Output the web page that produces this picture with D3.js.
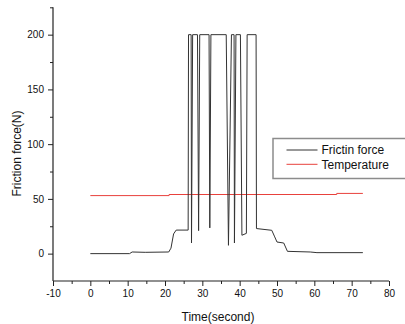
<!DOCTYPE html>
<html>
<head>
<meta charset="utf-8">
<script src="https://cdn.jsdelivr.net/npm/d3@7"></script>
<style>
  html, body { margin: 0; padding: 0; background: #fff; }
  svg { display: block; font-family: 'Liberation Sans', Arial, sans-serif; }
</style>
</head>
<body>
<div id="chart"></div>
<script>
// friction force (N) vs time (s)
const frictionTime = [0, 10.5, 11.2, 14.7, 21.0, 21.6, 22.3, 23.0, 26.2,
  26.3, 27.0, 27.1, 27.4, 28.7, 29.0, 29.3, 31.8, 32.0, 32.3, 36.4, 37.0, 37.8,
  38.5, 38.6, 39.0, 40.2, 40.6, 41.8, 42.0, 44.4, 44.5, 48.6, 49.3, 50.0, 51.8,
  52.8, 58.9, 60.7, 73.0];
const frictionValue = [0, 0, 1.5, 1.2, 1.5, 5, 18, 21.5, 21.5,
  200, 200, 9.7, 200, 200, 21, 200, 200, 23.5, 200, 200, 7.6, 200,
  200, 9.7, 200, 200, 16.8, 18.5, 200, 200, 22.9, 21.3, 16, 10.6, 9.7,
  2.1, 1.5, 0.9, 0.9];

// temperature, drawn on the same axis
const tempTime = [0, 21.1, 21.1, 66.0, 66.0, 73.0];
const tempValue = [53, 53, 54, 54, 55, 55];

const xMajorTicks = [-10, 0, 10, 20, 30, 40, 50, 60, 70, 80];
const xMinorTicks = [-5, 5, 15, 25, 35, 45, 55, 65, 75];
const yMajorTicks = [0, 50, 100, 150, 200];
const yMinorTicks = [25, 75, 125, 175, 225];

const legendNames = ['Frictin force', 'Temperature'];
const seriesColors = ['#333333', '#e8413c'];

const width = 405, height = 324;
const margin = { top: 7.3, right: 16, bottom: 43, left: 53 };

const svg = d3.select('#chart').append('svg')
  .attr('width', width)
  .attr('height', height);

const x = d3.scaleLinear().domain([-10, 80]).range([margin.left, width - margin.right]);
const y = d3.scaleLinear().domain([-25, 225]).range([height - margin.bottom, margin.top]);

const axisColor = '#222';
const plainNum = d => String(d);  // hyphen minus like the original, not U+2212

// x axis: major + minor ticks
const gx = svg.append('g')
  .attr('transform', `translate(0,${height - margin.bottom})`)
  .call(d3.axisBottom(x).tickValues(xMajorTicks).tickSize(5).tickPadding(4).tickFormat(plainNum));
svg.append('g')
  .attr('transform', `translate(0,${height - margin.bottom})`)
  .call(d3.axisBottom(x).tickValues(xMinorTicks).tickSize(3).tickFormat(''))
  .call(g => g.select('.domain').remove());

// y axis
const gy = svg.append('g')
  .attr('transform', `translate(${margin.left},0)`)
  .call(d3.axisLeft(y).tickValues(yMajorTicks).tickSize(5).tickPadding(4).tickFormat(plainNum));
svg.append('g')
  .attr('transform', `translate(${margin.left},0)`)
  .call(d3.axisLeft(y).tickValues(yMinorTicks).tickSize(3).tickFormat(''))
  .call(g => g.select('.domain').remove());

svg.selectAll('.domain').attr('stroke', axisColor).attr('stroke-width', 1.2);
svg.selectAll('.tick line').attr('stroke', axisColor);
svg.selectAll('.tick text').attr('fill', '#111').style('font-size', '10px');
// square corners instead of d3's outer tick stubs
gx.select('.domain').attr('d', `M${x(-10)},0H${x(80)}`);
gy.select('.domain').attr('d', `M0,${y(225)}V${y(-25)}`);

// axis titles
svg.append('text')
  .attr('x', 218)
  .attr('y', 320.5)
  .attr('text-anchor', 'middle')
  .style('font-size', '12px')
  .attr('fill', '#111')
  .text('Time(second)');

svg.append('text')
  .attr('transform', 'translate(20.5,153.5) rotate(-90)')
  .attr('text-anchor', 'middle')
  .style('font-size', '12px')
  .attr('fill', '#111')
  .text('Friction force(N)');

// lines
const line = d3.line().x(d => x(d[0])).y(d => y(d[1]));

svg.append('path')
  .datum(tempTime.map((t, i) => [t, tempValue[i]]))
  .attr('d', line)
  .attr('fill', 'none')
  .attr('stroke', seriesColors[1])
  .attr('stroke-width', 1);

svg.append('path')
  .datum(frictionTime.map((t, i) => [t, frictionValue[i]]))
  .attr('d', line)
  .attr('fill', 'none')
  .attr('stroke', seriesColors[0])
  .attr('stroke-width', 1);

// legend
const lg = svg.append('g');
lg.append('rect')
  .attr('x', 273)
  .attr('y', 138.5)
  .attr('width', 140)
  .attr('height', 40)
  .attr('fill', '#fff')
  .attr('stroke', '#8c8c8c')
  .attr('stroke-width', 1.5);

legendNames.forEach((name, i) => {
  const cy = 150 + i * 14.3;
  lg.append('line')
    .attr('x1', 286.5).attr('x2', 317.5)
    .attr('y1', cy).attr('y2', cy)
    .attr('stroke', seriesColors[i])
    .attr('stroke-width', 1);
  lg.append('text')
    .attr('x', 321.5)
    .attr('y', cy + 4.3)
    .style('font-size', '12px')
    .attr('fill', '#111')
    .text(name);
});
</script>
</body>
</html>
